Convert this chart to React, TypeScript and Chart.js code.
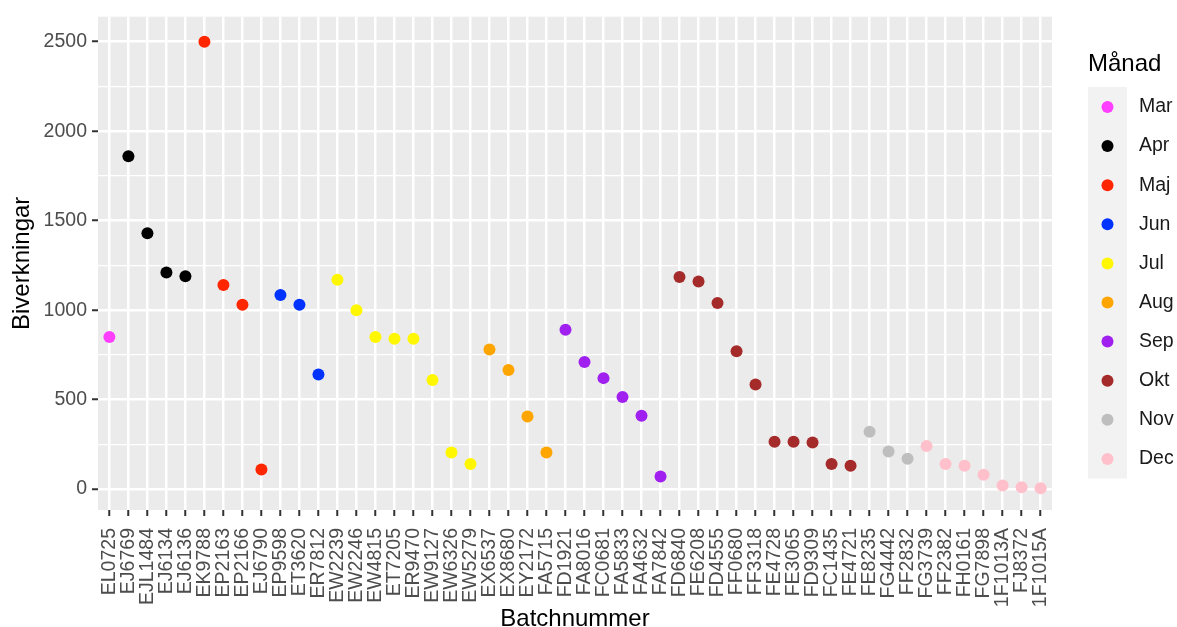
import React, { useEffect, useRef } from "react";
import { Chart, registerables } from "chart.js";

Chart.register(...registerables);

const batches = [
  "EL0725", "EJ6769", "EJL1484", "EJ6134", "EJ6136", "EK9788", "EP2163", "EP2166", "EJ6790", "EP9598",
  "ET3620", "ER7812", "EW2239", "EW2246", "EW4815", "ET7205", "ER9470", "EW9127", "EW6326", "EW5279",
  "EX6537", "EX8680", "EY2172", "FA5715", "FD1921", "FA8016", "FC0681", "FA5833", "FA4632", "FA7842",
  "FD6840", "FE6208", "FD4555", "FF0680", "FF3318", "FE4728", "FE3065", "FD9309", "FC1435", "FE4721",
  "FE8235", "FG4442", "FF2832", "FG3739", "FF2382", "FH0161", "FG7898", "1F1013A", "FJ8372", "1F1015A",
];

const reactions = [
  850, 1860, 1430, 1210, 1190, 2500, 1140, 1030, 110, 1085,
  1030, 640, 1170, 1000, 850, 840, 840, 610, 205, 140,
  780, 665, 405, 205, 890, 710, 620, 515, 410, 70,
  1185, 1160, 1040, 770, 585, 265, 265, 260, 140, 130,
  320, 210, 170, 240, 140, 130, 80, 20, 10, 5,
];

const batchMonth = [
  "Mar", "Apr", "Apr", "Apr", "Apr", "Maj", "Maj", "Maj", "Maj", "Jun",
  "Jun", "Jun", "Jul", "Jul", "Jul", "Jul", "Jul", "Jul", "Jul", "Jul",
  "Aug", "Aug", "Aug", "Aug", "Sep", "Sep", "Sep", "Sep", "Sep", "Sep",
  "Okt", "Okt", "Okt", "Okt", "Okt", "Okt", "Okt", "Okt", "Okt", "Okt",
  "Nov", "Nov", "Nov", "Dec", "Dec", "Dec", "Dec", "Dec", "Dec", "Dec",
];

const months = ["Mar", "Apr", "Maj", "Jun", "Jul", "Aug", "Sep", "Okt", "Nov", "Dec"];
const monthColors = [
  "#FF3FFF", "#000000", "#FF2600", "#0033FF", "#FFF700",
  "#FFA500", "#A020F0", "#A52A2A", "#BEBEBE", "#FFC0CB",
];

const yMajorTicks = [0, 500, 1000, 1500, 2000, 2500];
const yMinorTicks = [250, 750, 1250, 1750, 2250];

const FONT = "'Liberation Sans', Arial, Helvetica, sans-serif";

const panelBg = {
  id: "panelBg",
  beforeDraw(chart: any) {
    const { ctx, chartArea } = chart;
    ctx.save();
    ctx.fillStyle = "#EBEBEB";
    ctx.fillRect(chartArea.left, chartArea.top, chartArea.right - chartArea.left, chartArea.bottom - chartArea.top);
    ctx.restore();
  },
};

const ggLegend = {
  id: "ggLegend",
  afterDraw(chart: any) {
    const { ctx } = chart;
    const x0 = 1088;
    ctx.save();
    ctx.fillStyle = "#000000";
    ctx.font = `24px ${FONT}`;
    ctx.textBaseline = "middle";
    ctx.textAlign = "left";
    ctx.fillText("Månad", x0, 64);
    const ds = chart.data.datasets;
    const step = 39.1;
    const firstY = 107;
    ctx.fillStyle = "#F2F2F2";
    ctx.fillRect(x0, 87, 39, step * ds.length + 0.5);
    ds.forEach((d: any, i: number) => {
      const cy = firstY + i * step;
      ctx.beginPath();
      ctx.arc(x0 + 19.5, cy, 6, 0, Math.PI * 2);
      ctx.fillStyle = d.backgroundColor;
      ctx.fill();
      ctx.fillStyle = "#1A1A1A";
      ctx.font = `19.5px ${FONT}`;
      ctx.fillText(d.label, 1139, cy);
    });
    ctx.restore();
  },
};

export default function App() {
  const ref = useRef<HTMLCanvasElement | null>(null);

  useEffect(() => {
    document.body.style.margin = "0";
    const canvas = ref.current;
    if (!canvas) return;

    const datasets = months.map((m, mi) => ({
      label: m,
      data: batches
        .map((b, i) => ({ x: i, y: reactions[i], m: batchMonth[i] }))
        .filter((p) => p.m === m)
        .map((p) => ({ x: p.x, y: p.y })),
      backgroundColor: monthColors[mi],
      borderColor: monthColors[mi],
      pointRadius: 6,
      pointHoverRadius: 6,
      borderWidth: 0,
      showLine: false,
    }));

    const chart = new Chart(canvas, {
      type: "scatter",
      data: { datasets },
      plugins: [panelBg, ggLegend],
      options: {
        animation: false,
        responsive: false,
        devicePixelRatio: 1,
        layout: { padding: { top: 15, right: 125, bottom: 0, left: 0 } },
        plugins: {
          legend: { display: false },
          tooltip: { enabled: false },
        },
        scales: {
          x: {
            type: "linear",
            min: -0.6,
            max: batches.length - 1 + 0.6,
            afterBuildTicks: (scale: any) => {
              scale.ticks = batches.map((_, i) => ({ value: i }));
            },
            afterFit: (scale: any) => {
              scale.height = 117;
            },
            border: { display: false },
            grid: {
              color: "#FFFFFF",
              lineWidth: 2.5,
              drawTicks: true,
              tickLength: 6,
              tickColor: "#333333",
              tickWidth: 2,
            },
            ticks: {
              autoSkip: false,
              minRotation: 90,
              maxRotation: 90,
              padding: 12,
              color: "#4D4D4D",
              font: { family: FONT, size: 19.5 },
              callback: (v: any) => batches[v] ?? "",
            },
            title: {
              display: true,
              text: "Batchnummer",
              color: "#000000",
              font: { family: FONT, size: 24, lineHeight: 0.65 },
              padding: { top: 0, bottom: 0 },
            },
          },
          y: {
            type: "linear",
            min: -117,
            max: 2640,
            afterBuildTicks: (scale: any) => {
              scale.ticks = [...yMajorTicks, ...yMinorTicks]
                .sort((a, b) => a - b)
                .map((v) => ({ value: v }));
            },
            afterFit: (scale: any) => {
              scale.width = 98;
            },
            border: { display: false },
            grid: {
              color: "#FFFFFF",
              lineWidth: (c: any) => (yMajorTicks.includes(c.tick?.value) ? 2.5 : 1.2),
              drawTicks: true,
              tickLength: 6,
              tickColor: (c: any) => (yMajorTicks.includes(c.tick?.value) ? "#333333" : "rgba(0,0,0,0)"),
              tickWidth: 2,
            },
            ticks: {
              padding: 5,
              color: "#4D4D4D",
              font: { family: FONT, size: 19.5 },
              callback: (v: any) => (yMajorTicks.includes(v) ? String(v) : ""),
            },
            title: {
              display: true,
              text: "Biverkningar",
              color: "#000000",
              font: { family: FONT, size: 24, lineHeight: 1 },
              padding: { top: 10, bottom: 0 },
            },
          },
        },
      } as any,
    });

    return () => chart.destroy();
  }, []);

  return <canvas ref={ref} width={1177} height={627} style={{ display: "block" }} />;
}
